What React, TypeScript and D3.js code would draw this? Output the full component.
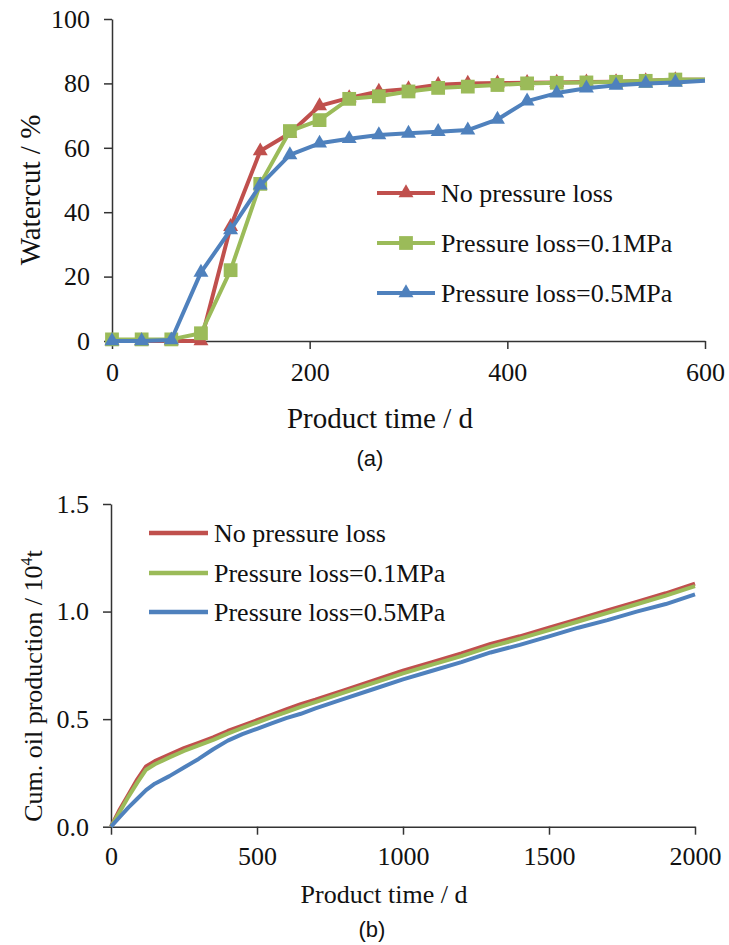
import * as d3 from 'd3';
import { useEffect, useRef } from 'react';

const SERIES_NAMES = ['No pressure loss', 'Pressure loss=0.1MPa', 'Pressure loss=0.5MPa'];
const SERIES_COLORS = ['#C0504D', '#9BBB59', '#4F81BD'];
const SERIES_MARKERS = ['triangle', 'square', 'triangle'];

// (a) watercut, one sample every 30 d
const WATERCUT_DAYS = [0, 30, 60, 90, 120, 150, 180, 210, 240, 270, 300, 330, 360, 390, 420, 450, 480, 510, 540, 570, 600];
const WATERCUT_NO_LOSS = [0, 0, 0, 0, 35.5, 59, 64.5, 73, 75.5, 77.5, 78.3, 79.6, 80, 80.1, 80.2, 80.3, 80.4, 80.5, 80.8, 81.1, 81.1];
const WATERCUT_LOSS_01 = [0.5, 0.5, 0.5, 2.4, 22, 48.8, 65.2, 68.6, 75.2, 76, 77.5, 78.6, 79, 79.5, 80, 80.2, 80.3, 80.5, 80.8, 81.2, 81.2];
const WATERCUT_LOSS_05 = [0, 0, 0.3, 21.3, 34.5, 48.4, 57.8, 61.4, 62.8, 64, 64.5, 65, 65.5, 68.8, 74.5, 77, 78.5, 79.4, 80, 80.3, 80.8];
const WATERCUT_X_TICKS = [0, 200, 400, 600];
const WATERCUT_Y_TICKS = [0, 20, 40, 60, 80, 100];

// (b) cumulative oil production, 10^4 t
const CUM_DAYS = [0, 30, 60, 90, 120, 150, 200, 250, 300, 350, 400, 450, 500, 550, 600, 650, 700, 800, 900, 1000, 1100, 1200, 1300, 1400, 1500, 1600, 1700, 1800, 1900, 2000];
const CUM_NO_LOSS = [0, 0.08, 0.15, 0.22, 0.28, 0.305, 0.335, 0.365, 0.39, 0.415, 0.445, 0.47, 0.495, 0.52, 0.545, 0.57, 0.59, 0.635, 0.68, 0.725, 0.765, 0.805, 0.85, 0.885, 0.925, 0.965, 1.005, 1.045, 1.085, 1.13];
const CUM_LOSS_01 = [0, 0.07, 0.14, 0.205, 0.265, 0.29, 0.322, 0.352, 0.378, 0.404, 0.433, 0.459, 0.484, 0.509, 0.533, 0.557, 0.579, 0.624, 0.669, 0.713, 0.753, 0.793, 0.837, 0.874, 0.914, 0.954, 0.994, 1.034, 1.074, 1.118];
const CUM_LOSS_05 = [0, 0.045, 0.09, 0.13, 0.17, 0.2, 0.235, 0.275, 0.315, 0.36, 0.4, 0.43, 0.455, 0.48, 0.505, 0.525, 0.55, 0.595, 0.64, 0.685, 0.725, 0.765, 0.81, 0.845, 0.885, 0.925, 0.96, 1.0, 1.035, 1.08];
const CUM_X_TICKS = [0, 500, 1000, 1500, 2000];
const CUM_Y_TICKS = [0, 0.5, 1.0, 1.5];

const SERIF = '"Liberation Serif", "Times New Roman", serif';
const SANS = '"Liberation Sans", Arial, sans-serif';
const W = 729;
const H = 945;

function markerPath(kind: string) {
    return kind === 'square'
        ? d3.symbol(d3.symbolSquare, 190)()
        : d3.symbol(d3.symbolTriangle, 97)();
}

function drawAxes(g: any, x: any, y: any, xTicks: number[], yTicks: number[], yFmt: (v: number) => string, xPad: number) {
    const xAxis = g
        .append('g')
        .attr('transform', `translate(0,${y.range()[0]})`)
        .call(d3.axisBottom(x).tickValues(xTicks).tickFormat(d3.format('d')).tickSize(8).tickSizeOuter(0).tickPadding(xPad));
    const yAxis = g
        .append('g')
        .attr('transform', `translate(${x.range()[0]},0)`)
        .call(d3.axisLeft(y).tickValues(yTicks).tickFormat(yFmt).tickSize(8).tickSizeOuter(0).tickPadding(14));
    for (const a of [xAxis, yAxis]) {
        a.attr('font-family', SERIF).attr('font-size', 26);
        a.select('.domain').attr('stroke', '#333').attr('stroke-width', 1.5);
        a.selectAll('.tick line').attr('stroke', '#333').attr('stroke-width', 1.5);
        a.selectAll('.tick text').attr('fill', '#111');
    }
}

export default function App() {
    const svgRef = useRef<SVGSVGElement>(null);

    useEffect(() => {
        if (!svgRef.current) {
            return;
        }
        const svg = d3.select(svgRef.current);
        svg.selectAll('*').remove();

        // ---------- (a) watercut ----------
        const xa = d3.scaleLinear().domain([0, 600]).range([112, 705]);
        const ya = d3.scaleLinear().domain([0, 100]).range([341, 19]);
        const ga = svg.append('g');
        drawAxes(ga, xa, ya, WATERCUT_X_TICKS, WATERCUT_Y_TICKS, (v) => String(v), 14);

        const watercut = [WATERCUT_NO_LOSS, WATERCUT_LOSS_01, WATERCUT_LOSS_05];
        const lineA = d3
            .line<number>()
            .x((_, i) => xa(WATERCUT_DAYS[i]))
            .y((v) => ya(v));
        watercut.forEach((vals, s) => {
            ga.append('path')
                .attr('d', lineA(vals))
                .attr('fill', 'none')
                .attr('stroke', SERIES_COLORS[s])
                .attr('stroke-width', 4)
                .attr('stroke-linejoin', 'round');
            // no marker on the closing point at 600 d
            ga.selectAll(null)
                .data(vals.slice(0, -1))
                .join('path')
                .attr('d', markerPath(SERIES_MARKERS[s]))
                .attr('transform', (v: number, i: number) => `translate(${xa(WATERCUT_DAYS[i])},${ya(v)})`)
                .attr('fill', SERIES_COLORS[s]);
        });

        const legRowsA = [193, 243, 293];
        SERIES_NAMES.forEach((name, s) => {
            const ly = legRowsA[s];
            ga.append('line')
                .attr('x1', 377).attr('x2', 435).attr('y1', ly).attr('y2', ly)
                .attr('stroke', SERIES_COLORS[s]).attr('stroke-width', 4);
            ga.append('path')
                .attr('d', markerPath(SERIES_MARKERS[s]))
                .attr('transform', `translate(406,${ly})`)
                .attr('fill', SERIES_COLORS[s]);
            ga.append('text')
                .attr('x', 441).attr('y', ly + 8.5)
                .attr('font-family', SERIF).attr('font-size', 26).attr('fill', '#111')
                .text(name);
        });

        ga.append('text')
            .attr('transform', 'translate(40,190) rotate(-90)')
            .attr('text-anchor', 'middle')
            .attr('font-family', SERIF).attr('font-size', 29).attr('fill', '#111')
            .text('Watercut / %');
        ga.append('text')
            .attr('x', 380).attr('y', 428)
            .attr('text-anchor', 'middle')
            .attr('font-family', SERIF).attr('font-size', 29).attr('fill', '#111')
            .text('Product time / d');
        ga.append('text')
            .attr('x', 370).attr('y', 466)
            .attr('text-anchor', 'middle')
            .attr('font-family', SANS).attr('font-size', 22).attr('fill', '#111')
            .text('(a)');

        // ---------- (b) cumulative oil ----------
        const xb = d3.scaleLinear().domain([0, 2000]).range([111, 695]);
        const yb = d3.scaleLinear().domain([0, 1.5]).range([826.7, 504]);
        const gb = svg.append('g');
        drawAxes(gb, xb, yb, CUM_X_TICKS, CUM_Y_TICKS, d3.format('.1f'), 12);

        const cum = [CUM_NO_LOSS, CUM_LOSS_01, CUM_LOSS_05];
        const lineB = d3
            .line<number>()
            .x((_, i) => xb(CUM_DAYS[i]))
            .y((v) => yb(v));
        cum.forEach((vals, s) => {
            gb.append('path')
                .attr('d', lineB(vals))
                .attr('fill', 'none')
                .attr('stroke', SERIES_COLORS[s])
                .attr('stroke-width', 4)
                .attr('stroke-linejoin', 'round');
        });

        const legRowsB = [533, 573, 612];
        SERIES_NAMES.forEach((name, s) => {
            const ly = legRowsB[s];
            gb.append('line')
                .attr('x1', 149).attr('x2', 208).attr('y1', ly).attr('y2', ly)
                .attr('stroke', SERIES_COLORS[s]).attr('stroke-width', 4.5);
            gb.append('text')
                .attr('x', 214).attr('y', ly + 8.5)
                .attr('font-family', SERIF).attr('font-size', 26).attr('fill', '#111')
                .text(name);
        });

        const yTitle = gb
            .append('text')
            .attr('transform', 'translate(42,686) rotate(-90)')
            .attr('text-anchor', 'middle')
            .attr('font-family', SERIF).attr('font-size', 26).attr('fill', '#111');
        yTitle.append('tspan').text('Cum. oil production / 10');
        yTitle.append('tspan').attr('font-size', 16).attr('dy', -10).text('4');
        yTitle.append('tspan').attr('dy', 10).text('t');

        gb.append('text')
            .attr('x', 384).attr('y', 903)
            .attr('text-anchor', 'middle')
            .attr('font-family', SERIF).attr('font-size', 26).attr('fill', '#111')
            .text('Product time / d');
        gb.append('text')
            .attr('x', 372).attr('y', 937)
            .attr('text-anchor', 'middle')
            .attr('font-family', SANS).attr('font-size', 22).attr('fill', '#111')
            .text('(b)');
    }, []);

    return (
        <svg
            ref={svgRef}
            width={W}
            height={H}
            style={{ position: 'absolute', left: 0, top: 0, background: '#fff', display: 'block' }}
        />
    );
}
